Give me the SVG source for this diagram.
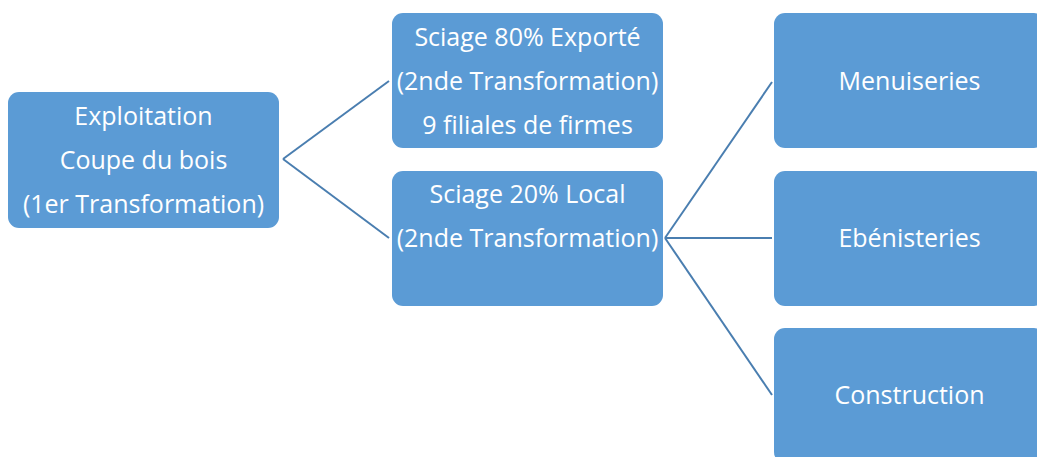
<svg xmlns="http://www.w3.org/2000/svg" width="1037" height="457" viewBox="0 0 1037 457">
<style>
.box{fill:#5B9BD5;}
.t{fill:#fff;font-family:"Open Sans","Noto Sans",sans-serif;font-size:25px;text-anchor:middle;}
.c{stroke:#4A7EB0;stroke-width:2;fill:none;}
</style>
<rect width="1037" height="457" fill="#fff"/>
<g id="connectors">
<path class="c" d="M283,159 L389,81"/>
<path class="c" d="M283,159 L389,238"/>
<path class="c" d="M665,238 L772,82"/>
<path class="c" d="M665,238 L772,238"/>
<path class="c" d="M665,238 L772,395"/>
</g>
<g id="exploitation">
<rect class="box" x="8" y="92" width="271" height="136" rx="11"/>
<text class="t" x="143.5" y="125">Exploitation</text>
<text class="t" x="143.5" y="169">Coupe du bois</text>
<text class="t" x="143.5" y="213">(1er Transformation)</text>
</g>
<g id="sciage80">
<rect class="box" x="392" y="13" width="271" height="135" rx="11"/>
<text class="t" x="527.5" y="46">Sciage 80% Exporté</text>
<text class="t" x="527.5" y="90">(2nde Transformation)</text>
<text class="t" x="527.5" y="134">9 filiales de firmes</text>
</g>
<g id="sciage20">
<rect class="box" x="392" y="171" width="271" height="135" rx="11"/>
<text class="t" x="527.5" y="203">Sciage 20% Local</text>
<text class="t" x="527.5" y="247">(2nde Transformation)</text>
</g>
<g id="menuiseries">
<rect class="box" x="774" y="13" width="271" height="135" rx="11"/>
<text class="t" x="909.5" y="90">Menuiseries</text>
</g>
<g id="ebenisteries">
<rect class="box" x="774" y="171" width="271" height="135" rx="11"/>
<text class="t" x="909.5" y="247">Ebénisteries</text>
</g>
<g id="construction">
<rect class="box" x="774" y="328" width="271" height="135" rx="11"/>
<text class="t" x="909.5" y="404">Construction</text>
</g>
</svg>
